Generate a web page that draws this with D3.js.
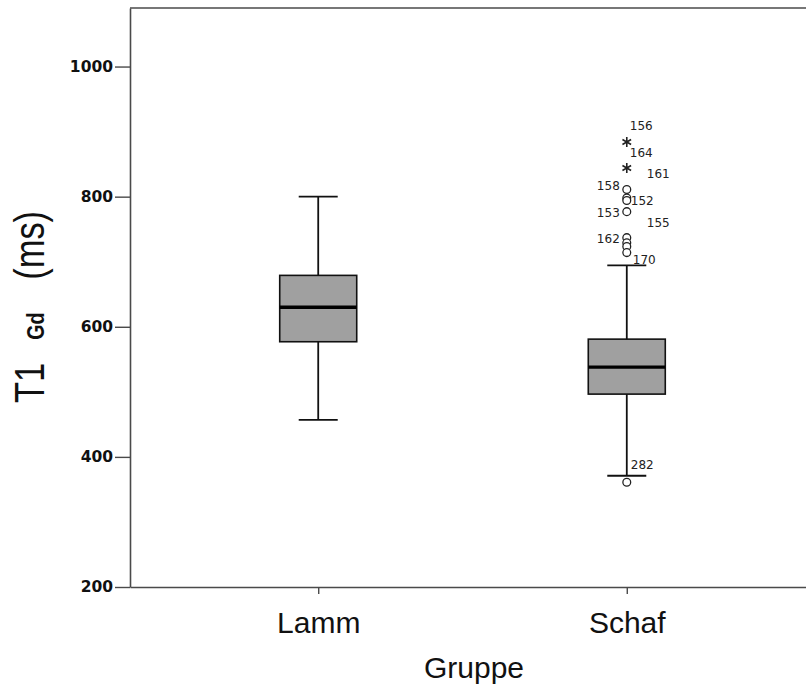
<!DOCTYPE html>
<html>
<head>
<meta charset="utf-8">
<style>
  body { margin: 0; background: #fff; }
  svg { display: block; }
</style>
</head>
<body>
<div id="chart"></div>
<script src="https://cdn.jsdelivr.net/npm/d3@7"></script>
<script>
// data
var groups = ["Lamm", "Schaf"];
var whiskerLow = [457, 371];
var q1 = [577, 496.5];
var median = [630, 538];
var q3 = [679, 581];
var whiskerHigh = [800, 694.5];

// outliers (all in Schaf); "extreme" drawn as stars, "mild" as circles
var outlierValues = [884, 844, 811, 798, 794, 777, 737, 729, 723.5, 714, 361];
var outlierKinds = ["extreme", "extreme", "mild", "mild", "mild", "mild", "mild", "mild", "mild", "mild", "mild"];

// case labels and the value they sit at
var caseLabels = ["156", "164", "161", "158", "152", "153", "155", "162", "170", "282"];
var caseLabelValues = [909, 868, 835, 817, 794, 776, 760, 735, 703, 388];

var yTicks = [200, 400, 600, 800, 1000];

// layout
var W = 806, H = 684;
var margin = {top: 8, left: 130, bottom: 97};
var plotRight = 815; // frame runs past the window edge
var yBottom = H - margin.bottom;

var svg = d3.select("#chart").append("svg")
  .attr("width", W)
  .attr("height", H);

var x = d3.scalePoint()
  .domain(groups)
  .range([margin.left, plotRight])
  .padding(0.61);

var y = d3.scaleLinear()
  .domain([200, 1090])
  .range([yBottom, margin.top]);

var axisColor = "#4a4a4a";

// frame: top line
svg.append("line")
  .attr("x1", margin.left).attr("x2", plotRight)
  .attr("y1", y(1090)).attr("y2", y(1090))
  .attr("stroke", axisColor).attr("stroke-width", 1.6);

// y axis
var yAxis = svg.append("g")
  .attr("transform", "translate(" + margin.left + ",0)")
  .call(d3.axisLeft(y).tickValues(yTicks).tickFormat(d3.format("d"))
    .tickSize(15).tickSizeOuter(0).tickPadding(2));
yAxis.select(".domain").attr("stroke", axisColor).attr("stroke-width", 1.6);
yAxis.selectAll(".tick line").attr("stroke", axisColor).attr("stroke-width", 1.4);
yAxis.selectAll(".tick text")
  .attr("font-family", "DejaVu Sans")
  .attr("font-weight", "bold")
  .attr("font-size", 15.5)
  .attr("fill", "#111");

// x axis
var xAxis = svg.append("g")
  .attr("transform", "translate(0," + yBottom + ")")
  .call(d3.axisBottom(x).tickSize(7).tickSizeOuter(0));
xAxis.select(".domain").attr("stroke", axisColor).attr("stroke-width", 1.6);
xAxis.selectAll(".tick line").attr("stroke", axisColor).attr("stroke-width", 1.4);
xAxis.selectAll(".tick text")
  .attr("font-family", "Liberation Sans, Arial, sans-serif")
  .attr("font-size", 30)
  .attr("fill", "#111")
  .attr("dy", null)
  .attr("y", 46);

// axis titles
svg.append("text")
  .attr("x", 474)
  .attr("y", 678)
  .attr("text-anchor", "middle")
  .attr("font-family", "Liberation Sans, Arial, sans-serif")
  .attr("font-size", 30)
  .attr("fill", "#111")
  .text("Gruppe");

var yTitle = svg.append("text")
  .attr("transform", "translate(44,403) rotate(-90) scale(0.82,1)")
  .attr("font-family", "Liberation Sans, Arial, sans-serif")
  .attr("fill", "#111");
yTitle.append("tspan").attr("font-size", 42).text("T1");
yTitle.append("tspan").attr("font-size", 24).attr("font-weight", "bold").attr("dx", 28).text("Gd");
yTitle.append("tspan").attr("font-size", 42).attr("dx", 40).text("(ms)");

// boxes
var boxW = 77, capW = 39;
var boxes = groups.map(function(g, i) {
  return {g: g, lo: whiskerLow[i], q1: q1[i], med: median[i], q3: q3[i], hi: whiskerHigh[i]};
});

var bg = svg.append("g").selectAll("g").data(boxes).enter().append("g");

bg.append("line")
  .attr("x1", function(d) { return x(d.g); })
  .attr("x2", function(d) { return x(d.g); })
  .attr("y1", function(d) { return y(d.hi); })
  .attr("y2", function(d) { return y(d.lo); })
  .attr("stroke", "#111").attr("stroke-width", 1.8);

bg.append("line")
  .attr("x1", function(d) { return x(d.g) - capW / 2; })
  .attr("x2", function(d) { return x(d.g) + capW / 2; })
  .attr("y1", function(d) { return y(d.hi); })
  .attr("y2", function(d) { return y(d.hi); })
  .attr("stroke", "#111").attr("stroke-width", 1.8);

bg.append("line")
  .attr("x1", function(d) { return x(d.g) - capW / 2; })
  .attr("x2", function(d) { return x(d.g) + capW / 2; })
  .attr("y1", function(d) { return y(d.lo); })
  .attr("y2", function(d) { return y(d.lo); })
  .attr("stroke", "#111").attr("stroke-width", 1.8);

bg.append("rect")
  .attr("x", function(d) { return x(d.g) - boxW / 2; })
  .attr("width", boxW)
  .attr("y", function(d) { return y(d.q3); })
  .attr("height", function(d) { return y(d.q1) - y(d.q3); })
  .attr("fill", "#a0a0a0")
  .attr("stroke", "#111").attr("stroke-width", 1.6);

bg.append("line")
  .attr("x1", function(d) { return x(d.g) - boxW / 2; })
  .attr("x2", function(d) { return x(d.g) + boxW / 2; })
  .attr("y1", function(d) { return y(d.med); })
  .attr("y2", function(d) { return y(d.med); })
  .attr("stroke", "#000").attr("stroke-width", 3.4);

// outliers
var outliers = outlierValues.map(function(v, i) { return {v: v, kind: outlierKinds[i]}; });
var og = svg.append("g");
og.selectAll("circle")
  .data(outliers.filter(function(d) { return d.kind === "mild"; }))
  .enter().append("circle")
  .attr("cx", x("Schaf"))
  .attr("cy", function(d) { return y(d.v); })
  .attr("r", 3.9)
  .attr("fill", "#fff")
  .attr("stroke", "#222")
  .attr("stroke-width", 1.3);

og.selectAll("path")
  .data(outliers.filter(function(d) { return d.kind === "extreme"; }))
  .enter().append("path")
  .attr("transform", function(d) { return "translate(" + x("Schaf") + "," + y(d.v) + ")"; })
  .attr("d", d3.symbol().type(d3.symbolAsterisk).size(70))
  .attr("fill", "none")
  .attr("stroke", "#222")
  .attr("stroke-width", 1.6);

// case labels: horizontal nudge from the whisker line
var labelDx = [3, 3, 20, -7, 4, -7, 20, -7, 6, 4];
og.selectAll("text")
  .data(caseLabels.map(function(t, i) { return {t: t, v: caseLabelValues[i], dx: labelDx[i]}; }))
  .enter().append("text")
  .attr("x", function(d) { return x("Schaf") + d.dx; })
  .attr("y", function(d) { return y(d.v); })
  .attr("dy", "0.36em")
  .attr("text-anchor", function(d) { return d.dx < 0 ? "end" : "start"; })
  .attr("font-family", "DejaVu Sans")
  .attr("font-size", 12)
  .attr("fill", "#222")
  .text(function(d) { return d.t; });
</script>
</body>
</html>
